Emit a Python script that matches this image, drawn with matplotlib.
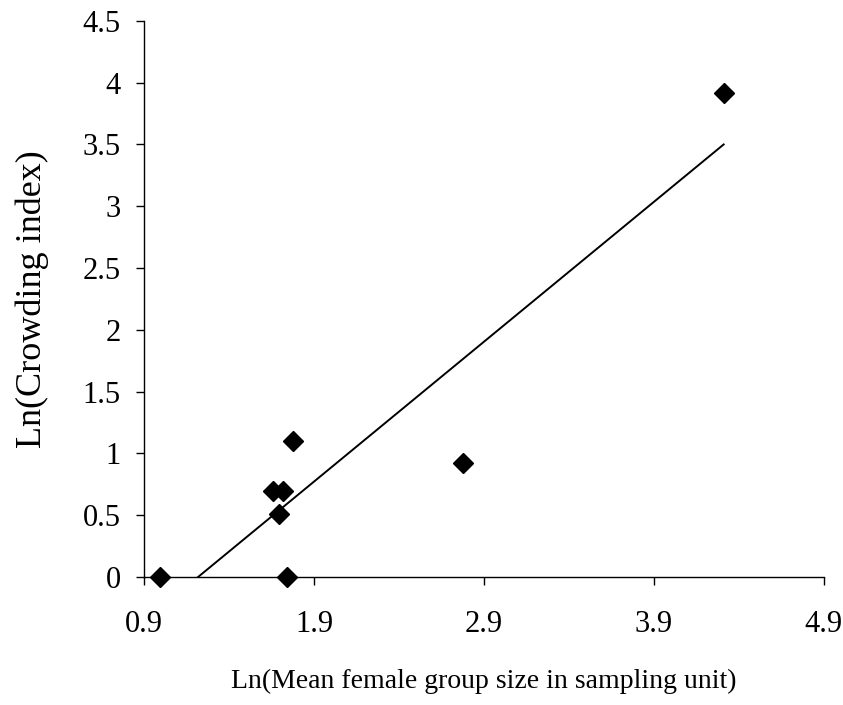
import numpy as np
import matplotlib
matplotlib.use("Agg")
import matplotlib.pyplot as plt

plt.rcParams['font.family'] = ['Liberation Serif', 'DejaVu Serif']

x_vals = [0.994, 1.657, 1.716, 1.694, 1.775, 1.743, 2.775, 4.316]
y_vals = [0.0, 0.693, 0.693, 0.513, 1.099, 0.0, 0.922, 3.916]
x_ticks = [0.9, 1.9, 2.9, 3.9, 4.9]
y_ticks = [0, 0.5, 1, 1.5, 2, 2.5, 3, 3.5, 4, 4.5]
x_label = "Ln(Mean female group size in sampling unit)"
y_label = "Ln(Crowding index)"

fig = plt.figure(figsize=(8.43, 7.05), dpi=100)
ax = fig.add_axes([0.171, 0.1816, 0.806, 0.789])

slope, intercept = np.polyfit(x_vals, y_vals, 1)
xl = np.array([min(x_vals), max(x_vals)])
ax.plot(xl, slope * xl + intercept, color='black', lw=1.4, solid_capstyle='butt')
ax.plot(x_vals, y_vals, linestyle='none', marker='D', ms=10, color='black', clip_on=False)

ax.set_xlim(0.9, 4.9)
ax.set_ylim(0, 4.5)
ax.set_xticks(x_ticks)
ax.set_xticklabels([f"{v:g}" for v in x_ticks])
ax.set_yticks(y_ticks)
ax.set_yticklabels([f"{v:g}" for v in y_ticks])
for s in ['top', 'right']:
    ax.spines[s].set_visible(False)
for s in ['left', 'bottom']:
    ax.spines[s].set_linewidth(1.0)
ax.tick_params(axis='both', direction='out', length=6, width=1.0, labelsize=22)
ax.tick_params(axis='y', pad=11)
ax.tick_params(axis='x', pad=18)
ax.set_xlabel(x_label, fontsize=20, labelpad=21)
ax.set_ylabel(y_label, fontsize=26, labelpad=24)

fig.savefig("out.png", dpi=100)
